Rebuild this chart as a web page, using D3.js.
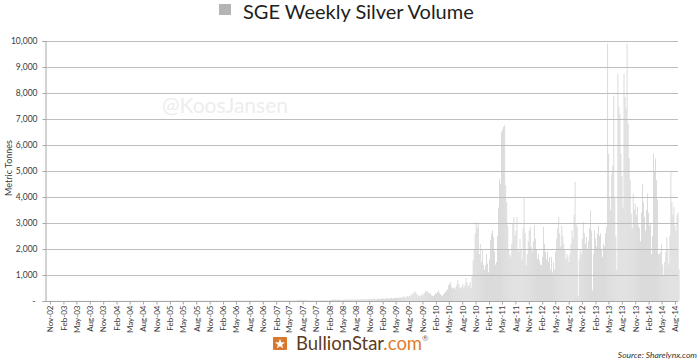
<!DOCTYPE html>
<html><head><meta charset="utf-8">
<script src="https://cdn.jsdelivr.net/npm/d3@7/dist/d3.min.js"></script>
<style>
html,body{margin:0;padding:0;background:#fff;}
svg{display:block;font-family:Lato,"Open Sans",sans-serif;}
</style></head>
<body><svg id="chart" width="700" height="362"></svg>
<script>
// ---- DATA ----
const chartTitle = "SGE Weekly Silver Volume";
const yAxisTitle = "Metric Tonnes";
const seriesStart = "2002-10-04";          // first weekly observation
const yTickValues = [0,1000,2000,3000,4000,5000,6000,7000,8000,9000,10000];
const xTickFirst = "2002-11-01", xTickLast = "2014-08-01", xTickStepMonths = 3;

// weekly volume (tonnes), Oct 2002 - mid 2007 (very small)
const volA = [
5,7,6,8,5,9,6,7,10,6,8,5,7,9,6,8,7,5,9,6,
7,8,6,10,7,5,8,9,6,7,11,8,6,9,7,8,10,6,7,9,
8,6,9,7,10,8,12,7,9,6,8,10,7,9,11,8,6,10,9,7,
9,11,8,10,7,12,9,8,11,10,7,9,12,8,10,9,11,7,10,8,
10,12,9,11,8,13,10,9,12,11,8,10,13,9,11,10,12,8,11,9,
11,9,13,10,12,14,9,11,10,13,12,9,11,14,10,12,11,13,9,12,
12,14,10,13,11,15,12,10,14,13,11,12,15,10,13,12,14,11,13,12,
13,11,15,12,14,16,11,13,12,15,14,11,13,16,12,14,13,15,11,14,
14,16,12,15,13,17,14,12,16,15,13,14,17,12,15,14,16,13,15,14,
15,13,17,14,16,18,13,15,14,17,16,13,15,18,14,16,15,17,13,16,
16,18,14,17,15,19,16,14,18,17,15,16,19,14,17,16,18,15,17,16,
17,15,19,16,18,20,15,17,16,19,18,15,17,20,16,18,17,19,15,18,
18,20,16,19,17];
// mid 2007 - mid 2008
const volB = [
20,25,30,35,45,40,50,38,42,48,
35,30,25,22,20,18,24,28,22,20,
18,25,30,27,22,20,24,26,30,28,
25,22,20,28,35,40,45,55,50,60,
48,42,52,45,38,35,40,45,50];
// mid 2008 - mid 2009
const volC = [
55,60,45,50,70,65,58,62,48,52,
60,75,68,55,62,70,80,65,58,72,
66,60,78,85,70,62,75,90,82,68,
75,88,95,80,72,85,100,92,78,86,
95,110,98,88,105,120,100,92,115,108,
125,110,130,118];
// mid 2009 - late 2009
const volD = [140,120,160,180,150,130,170,200,160,190,220,250];
// late 2009 - early 2010
const volE = [
280,330,360,300,250,220,180,200,240,210,
250,300,380,350,390,330,280,300,220,200,
190,230,300,280,350,410,300,250];
// early 2010 - autumn 2010
const volF = [
220,180,260,300,350,400,450,600,650,730,
550,480,500,520,450,600,800,650,520,480,
560,650,500,600,880,700,550,600,730,500];
// autumn 2010 - Aug 2014
const volG = [
1000,1560,2000,2600,3040,2800,3000,1800,2200,1500,
2000,1400,1200,1370,1800,1440,1100,1600,2330,2600,
2720,2460,1900,1400,1500,2500,3600,4700,4500,6500,
6600,6700,6760,4450,3800,2900,2000,1800,1700,2200,
2970,3230,2500,2700,3230,2000,1900,2400,2000,1600,
2800,3940,2600,1370,1800,2300,2720,2850,2100,
1900,2300,2910,2400,2000,1630,1800,1560,1400,1370,
1700,2850,2200,1880,1600,1900,1500,1700,1200,1700,
1100,1500,1200,1900,2400,2800,3230,2600,2100,2900,
2500,2200,1950,1600,1800,1700,1500,1800,2200,
2720,2400,3300,4580,3000,2850,200,1600,1950,1800,
2400,3040,2600,2200,2460,2000,2300,2800,3490,2700,
410,1800,2720,2400,2100,2600,2900,2500,2600,2000,
1700,2200,2100,2600,2850,9900,5670,4000,3500,4900,
5200,7900,4000,2500,1180,8740,7460,7200,5670,
4800,3600,8740,7850,7400,9900,6820,5500,4640,3360,
2800,4130,3500,3740,3300,3620,2900,2800,2300,3400,
4510,3800,3230,2700,3500,4130,3400,2900,3000,1800,
2500,5670,5000,5470,4640,3900,1820,1800,1900,2200,
1400,1000,1500,1900,2460,2000,1400,2500,4960,3800,
3300,3620,2900,2700,3300,3400,1200];

// ---- BUILD ----
const values = [].concat(volA, volB, volC, volD, volE, volF, volG);
const parse = d3.timeParse("%Y-%m-%d");
const start = parse(seriesStart);
const data = values.map((v, i) => ({date: d3.timeWeek.offset(start, i), value: v}));

const svg = d3.select("#chart");
const plotLeft = 45, plotRight = 678, plotTop = 41, plotBottom = 301;

const x = d3.scaleTime()
  .domain([parse(xTickFirst), parse(xTickLast)])
  .range([50, 675]);
const y = d3.scaleLinear().domain([0, 10000]).range([plotBottom, plotTop]);

// title with legend swatch
svg.append("rect").attr("x", 219).attr("y", 4).attr("width", 12).attr("height", 11).attr("fill", "#b4b4b4");
svg.append("text").attr("x", 243).attr("y", 19).attr("font-size", 20)
  .attr("fill", "#1e1e1e").text(chartTitle);

// watermark
svg.append("text").attr("x", 162).attr("y", 113).attr("font-size", 21)
  .attr("fill", "#ededed").text("@KoosJansen");

// bars
const weekW = x(d3.timeWeek.offset(start, 1)) - x(start);
svg.append("g").selectAll("rect").data(data).join("rect")
  .attr("x", d => x(d.date) - weekW * 0.35)
  .attr("width", weekW * 0.7)
  .attr("y", d => y(d.value))
  .attr("height", d => plotBottom - y(d.value))
  .attr("fill", "#cdcdcd");

// gridlines
svg.append("g").selectAll("line").data(yTickValues.filter(v => v > 0)).join("line")
  .attr("x1", plotLeft).attr("x2", plotRight)
  .attr("y1", d => Math.round(y(d)) + 0.5).attr("y2", d => Math.round(y(d)) + 0.5)
  .attr("stroke", "#bdbdbd").attr("stroke-width", 1);

// y axis
const yAxis = d3.axisLeft(y).tickValues(yTickValues).tickSize(3).tickPadding(5)
  .tickFormat(d => d === 0 ? "-" : d3.format(",")(d));
const gy = svg.append("g").attr("transform", `translate(${plotLeft + 0.5},0)`).call(yAxis);
gy.select(".domain").attr("stroke", "#a6a6a6");
gy.selectAll(".tick line").attr("stroke", "#a6a6a6");
gy.selectAll(".tick text").attr("font-family", "Lato, sans-serif").attr("font-size", 8.5).attr("fill", "#3a3a3a");
gy.selectAll(".tick").filter(d => d === 0).select("text").attr("x", -10);

svg.append("text")
  .attr("transform", `translate(9,${(plotTop + plotBottom) / 2 - 3}) rotate(-90)`)
  .attr("text-anchor", "middle").attr("dy", "0.35em")
  .attr("font-size", 9).attr("fill", "#3a3a3a").text(yAxisTitle);

// x axis
const xTicks = d3.timeMonth.range(parse(xTickFirst), d3.timeDay.offset(parse(xTickLast), 1), xTickStepMonths);
const fmt = d3.timeFormat("%b-%y");
const xAxis = d3.axisBottom(x).tickValues(xTicks).tickSize(3).tickFormat(fmt);
const gx = svg.append("g").attr("transform", `translate(0,${plotBottom + 0.5})`).call(xAxis);
gx.select(".domain").attr("d", `M${plotLeft},0H${plotRight}`).attr("stroke", "#a6a6a6");
gx.selectAll(".tick line").attr("stroke", "#a6a6a6");
gx.selectAll(".tick text")
  .attr("font-family", "Lato, sans-serif").attr("font-size", 8).attr("fill", "#3a3a3a")
  .attr("text-anchor", "end")
  .attr("transform", "rotate(-90)")
  .attr("x", -4).attr("y", 0).attr("dy", "0.35em");

// footer logo
const logo = svg.append("g").attr("transform", "translate(273,337)");
logo.append("rect").attr("x", 0).attr("y", 0).attr("width", 14).attr("height", 13).attr("rx", 1).attr("fill", "#d9782d");
const star = d3.range(10).map(i => {
  const r = i % 2 === 0 ? 5.2 : 2.2, a = -Math.PI / 2 + i * Math.PI / 5;
  return [7 + r * Math.cos(a), 7 + r * Math.sin(a)];
});
logo.append("path").attr("d", "M" + star.join("L") + "Z").attr("fill", "#ffffff");
const brand = svg.append("text").attr("x", 296).attr("y", 350).attr("font-size", 18.5)
  .attr("font-family", "Lato, sans-serif");
brand.append("tspan").attr("fill", "#5e3b1c").text("BullionStar");
brand.append("tspan").attr("fill", "#e07d2c").text(".com");
brand.append("tspan").attr("fill", "#8a6a50").attr("font-size", 8).attr("dy", -9).text("®");

svg.append("text").attr("x", 697).attr("y", 358).attr("text-anchor", "end")
  .attr("font-size", 8.5).attr("font-style", "italic").attr("fill", "#333")
  .text("Source: Sharelynx.com");
</script></body></html>
